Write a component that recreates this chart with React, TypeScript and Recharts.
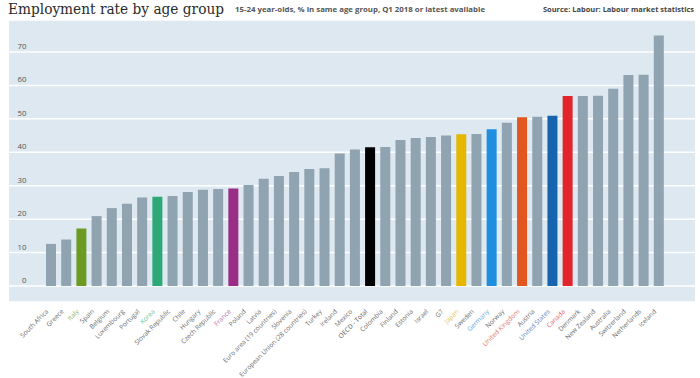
import { Bar, BarChart, CartesianGrid, Cell, XAxis, YAxis } from "recharts";

const COUNTRIES = [
  "South Africa", "Greece", "Italy", "Spain", "Belgium", "Luxembourg", "Portugal", "Korea",
  "Slovak Republic", "Chile", "Hungary", "Czech Republic", "France", "Poland", "Latvia",
  "Euro area (19 countries)", "Slovenia", "European Union (28 countries)", "Turkey", "Ireland",
  "Mexico", "OECD - Total", "Colombia", "Finland", "Estonia", "Israel", "G7", "Japan", "Sweden",
  "Germany", "Norway", "United Kingdom", "Austria", "United States", "Canada", "Denmark",
  "New Zealand", "Australia", "Switzerland", "Netherlands", "Iceland",
];

const RATES = [
  12.6, 13.9, 17.2, 20.9, 23.3, 24.6, 26.5, 26.7, 26.9, 28.1, 28.8, 29.0, 29.2, 30.2, 32.1,
  32.9, 34.1, 35.0, 35.2, 39.6, 40.8, 41.5, 41.6, 43.7, 44.3, 44.6, 45.0, 45.4, 45.5,
  46.9, 48.8, 50.5, 50.6, 50.9, 56.8, 56.8, 56.9, 59.0, 63.1, 63.2, 74.9,
];

const Y_TICKS = [0, 10, 20, 30, 40, 50, 60, 70];

const HIGHLIGHT: Record<string, string> = {
  Italy: "#6b9b22",
  Korea: "#2fa878",
  France: "#9a2d86",
  "OECD - Total": "#000000",
  Japan: "#e5b700",
  Germany: "#1d8fde",
  "United Kingdom": "#e2571f",
  "United States": "#1664ae",
  Canada: "#e2252d",
};

const LABEL_HIGHLIGHT: Record<string, string> = {
  Italy: "#8fae55",
  Korea: "#6cbf9c",
  France: "#b06aa3",
  "OECD - Total": "#555555",
  Japan: "#e3c04a",
  Germany: "#5aa6e3",
  "United Kingdom": "#e07a68",
  "United States": "#5b85c0",
  Canada: "#e2585e",
};

const BAR = "#8fa3b1";
const PANEL = "#dde8f0";
const FONT = "'Open Sans', 'Noto Sans', sans-serif";

const rows = COUNTRIES.map((country, i) => ({ country, rate: RATES[i] }));

function YTick(props: any) {
  const { y, payload } = props;
  return (
    <text x={26.5} y={y - 3} textAnchor="end" fontSize={7.8} fontFamily={FONT} fill="#555">
      {payload.value}
    </text>
  );
}

function XTick(props: any) {
  const { x, payload } = props;
  const fill = LABEL_HIGHLIGHT[payload.value] ?? "#6a6a6a";
  return (
    <text
      transform={`translate(${x - 1.7}, 312) rotate(-45)`}
      textAnchor="end"
      fontSize={6.5}
      fontFamily={FONT}
      fill={fill}
    >
      {payload.value}
    </text>
  );
}

export default function App() {
  return (
    <div style={{ position: "absolute", left: 0, top: 0, width: 700, height: 378, background: "#fff" }}>
      <svg width={700} height={20} style={{ position: "absolute", left: 0, top: 0 }}>
        <text
          x={8}
          y={14}
          fontFamily="'DejaVu Serif', serif"
          fontSize={14}
          fill="#2a2a2a"
          textLength={216}
          lengthAdjust="spacingAndGlyphs"
        >
          Employment rate by age group
        </text>
        <text
          x={235}
          y={12}
          fontFamily={FONT}
          fontSize={7.6}
          fontWeight="bold"
          fill="#555"
          textLength={250}
          lengthAdjust="spacingAndGlyphs"
        >
          15-24 year-olds, % in same age group, Q1 2018 or latest available
        </text>
        <text
          x={694}
          y={12}
          textAnchor="end"
          fontFamily={FONT}
          fontSize={7.8}
          fontWeight="bold"
          fill="#444"
          textLength={151}
          lengthAdjust="spacingAndGlyphs"
        >
          Source: Labour: Labour market statistics
        </text>
      </svg>
      <div style={{ position: "absolute", left: 0, top: 0 }}>
        <BarChart width={700} height={378} data={rows} margin={{ top: 20, right: 5, bottom: 0, left: 8 }}>
          <CartesianGrid fill={PANEL} fillOpacity={1} stroke="#ffffff" strokeWidth={1.5} vertical={false} />
          <XAxis
            dataKey="country"
            interval={0}
            height={76}
            axisLine={false}
            tickLine={false}
            padding={{ left: 34, right: 29 }}
            tick={<XTick />}
          />
          <YAxis
            type="number"
            width={1}
            domain={[-4.79, 79.57]}
            allowDataOverflow
            ticks={Y_TICKS}
            interval={0}
            axisLine={false}
            tickLine={false}
            tick={(p: any) => <YTick {...p} />}
          />
          <Bar dataKey="rate" barSize={10} isAnimationActive={false}>
            {rows.map((row) => (
              <Cell key={row.country} fill={HIGHLIGHT[row.country] ?? BAR} />
            ))}
          </Bar>
        </BarChart>
      </div>
    </div>
  );
}
